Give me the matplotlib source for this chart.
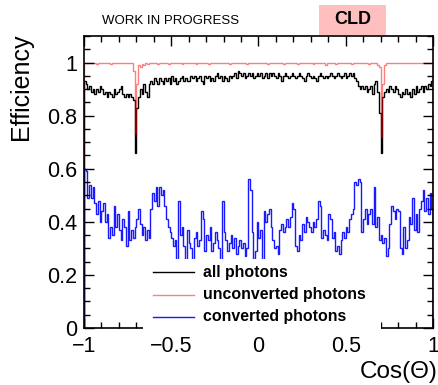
import matplotlib
matplotlib.use("Agg")
import matplotlib.pyplot as plt
import numpy as np
from matplotlib.patches import Rectangle
from matplotlib.lines import Line2D
from matplotlib.ticker import MultipleLocator

plt.rcParams['font.family'] = ['Liberation Sans', 'DejaVu Sans']

# efficiency vs cos(theta), 200 bins in [-1, 1]
edges = np.linspace(-1.0, 1.0, 201)

eff_all = [
    0.93, 0.92, 0.90, 0.91, 0.89, 0.90, 0.88, 0.90, 0.89, 0.91, 0.90, 0.88, 0.89, 0.87, 0.89, 0.88, 0.87, 0.90, 0.88, 0.89,
    0.90, 0.91, 0.88, 0.87, 0.88, 0.87, 0.88, 0.87, 0.86, 0.66, 0.83, 0.87, 0.90, 0.88, 0.92, 0.89, 0.87, 0.92, 0.93, 0.92,
    0.94, 0.93, 0.92, 0.94, 0.93, 0.92, 0.94, 0.93, 0.94, 0.92, 0.95, 0.93, 0.94, 0.92, 0.93, 0.94, 0.95, 0.93, 0.94, 0.93,
    0.93, 0.95, 0.94, 0.95, 0.93, 0.94, 0.95, 0.93, 0.92, 0.95, 0.94, 0.95, 0.93, 0.94, 0.93, 0.95, 0.96, 0.94, 0.95, 0.93,
    0.95, 0.94, 0.93, 0.95, 0.94, 0.95, 0.96, 0.94, 0.97, 0.96, 0.95, 0.96, 0.94, 0.95, 0.96, 0.95, 0.96, 0.94, 0.95, 0.96,
    0.95, 0.96, 0.94, 0.95, 0.96, 0.94, 0.96, 0.95, 0.96, 0.95, 0.94, 0.96, 0.95, 0.93, 0.95, 0.96, 0.95, 0.94, 0.95, 0.96,
    0.95, 0.94, 0.95, 0.96, 0.95, 0.94, 0.93, 0.95, 0.96, 0.95, 0.94, 0.95, 0.94, 0.93, 0.95, 0.96, 0.95, 0.94, 0.95, 0.94,
    0.95, 0.96, 0.95, 0.94, 0.95, 0.96, 0.95, 0.94, 0.95, 0.96, 0.94, 0.95, 0.96, 0.95, 0.96, 0.94, 0.93, 0.91, 0.90, 0.91,
    0.90, 0.91, 0.89, 0.90, 0.91, 0.88, 0.92, 0.93, 0.89, 0.81, 0.66, 0.87, 0.89, 0.90, 0.89, 0.91, 0.90, 0.89, 0.91, 0.90,
    0.88, 0.87, 0.89, 0.88, 0.90, 0.88, 0.89, 0.87, 0.90, 0.88, 0.91, 0.89, 0.90, 0.91, 0.89, 0.91, 0.90, 0.92, 0.91, 0.93,
]

eff_unconv = [
    1.00, 1.00, 1.00, 1.00, 1.00, 1.00, 1.00, 0.995, 1.00, 1.00, 1.00, 1.00, 1.00, 1.00, 1.00, 0.995, 1.00, 1.00, 1.00, 1.00,
    1.00, 1.00, 1.00, 1.00, 1.00, 1.00, 1.00, 1.00, 0.97, 0.73, 0.92, 0.99, 0.985, 0.995, 0.99, 1.00, 0.995, 1.00, 1.00, 1.00,
    1.00, 1.00, 0.995, 1.00, 1.00, 1.00, 1.00, 1.00, 0.995, 1.00, 1.00, 1.00, 1.00, 1.00, 1.00, 1.00, 0.995, 1.00, 1.00, 1.00,
    1.00, 1.00, 1.00, 1.00, 0.995, 1.00, 1.00, 1.00, 1.00, 1.00, 1.00, 0.995, 1.00, 1.00, 1.00, 1.00, 1.00, 1.00, 1.00, 1.00,
    1.00, 1.00, 1.00, 0.995, 1.00, 1.00, 1.00, 1.00, 1.00, 1.00, 1.00, 1.00, 1.00, 0.995, 1.00, 1.00, 1.00, 1.00, 1.00, 1.00,
    1.00, 1.00, 1.00, 1.00, 1.00, 0.995, 1.00, 1.00, 1.00, 1.00, 1.00, 1.00, 1.00, 1.00, 0.995, 1.00, 1.00, 1.00, 1.00, 1.00,
    1.00, 1.00, 0.995, 1.00, 1.00, 1.00, 1.00, 1.00, 1.00, 1.00, 1.00, 0.995, 1.00, 1.00, 1.00, 1.00, 1.00, 1.00, 0.99, 1.00,
    1.00, 1.00, 1.00, 1.00, 0.995, 1.00, 1.00, 1.00, 1.00, 1.00, 1.00, 1.00, 1.00, 0.995, 1.00, 1.00, 1.00, 1.00, 1.00, 1.00,
    1.00, 1.00, 1.00, 0.995, 1.00, 1.00, 1.00, 1.00, 0.99, 0.985, 0.72, 0.92, 0.99, 1.00, 1.00, 1.00, 1.00, 1.00, 1.00, 1.00,
    1.00, 1.00, 1.00, 1.00, 1.00, 1.00, 1.00, 1.00, 1.00, 1.00, 1.00, 1.00, 1.00, 1.00, 1.00, 1.00, 1.00, 1.00, 1.00, 1.00,
]

eff_conv = [
    0.60, 0.59, 0.49, 0.54, 0.49, 0.53, 0.47, 0.43, 0.48, 0.40, 0.44, 0.47, 0.40, 0.43, 0.34, 0.38, 0.35, 0.46, 0.38, 0.43,
    0.37, 0.33, 0.41, 0.38, 0.31, 0.44, 0.33, 0.37, 0.34, 0.38, 0.41, 0.45, 0.39, 0.35, 0.38, 0.33, 0.37, 0.34, 0.45, 0.51,
    0.48, 0.53, 0.46, 0.53, 0.50, 0.52, 0.46, 0.41, 0.38, 0.36, 0.34, 0.31, 0.33, 0.22, 0.48, 0.35, 0.38, 0.31, 0.22, 0.37,
    0.32, 0.30, 0.22, 0.34, 0.36, 0.31, 0.33, 0.44, 0.41, 0.29, 0.35, 0.33, 0.38, 0.29, 0.32, 0.36, 0.33, 0.30, 0.22, 0.48,
    0.36, 0.33, 0.29, 0.32, 0.35, 0.30, 0.34, 0.28, 0.31, 0.33, 0.30, 0.32, 0.27, 0.30, 0.56, 0.52, 0.36, 0.26, 0.29, 0.40,
    0.34, 0.37, 0.22, 0.44, 0.40, 0.43, 0.45, 0.38, 0.33, 0.30, 0.31, 0.28, 0.37, 0.39, 0.36, 0.38, 0.41, 0.38, 0.42, 0.47,
    0.45, 0.31, 0.29, 0.35, 0.33, 0.39, 0.36, 0.42, 0.40, 0.38, 0.36, 0.40, 0.38, 0.41, 0.48, 0.46, 0.34, 0.37, 0.35, 0.33,
    0.43, 0.41, 0.34, 0.36, 0.29, 0.31, 0.28, 0.33, 0.36, 0.34, 0.38, 0.36, 0.41, 0.43, 0.45, 0.55, 0.54, 0.56, 0.55, 0.36,
    0.41, 0.45, 0.39, 0.43, 0.45, 0.39, 0.53, 0.38, 0.42, 0.33, 0.35, 0.32, 0.34, 0.27, 0.30, 0.39, 0.46, 0.44, 0.41, 0.45,
    0.44, 0.30, 0.28, 0.38, 0.30, 0.33, 0.42, 0.39, 0.49, 0.37, 0.43, 0.36, 0.45, 0.48, 0.52, 0.44, 0.49, 0.43, 0.51, 0.45,
]

labels = ["all photons", "unconverted photons", "converted photons"]
colors = ["black", (1.0, 0.0, 0.0, 0.5), (0.0, 0.0, 1.0, 0.9)]

W, H = 439, 385


def fx(px):
    return px / W


def fy(py):
    return 1 - py / H


fig = plt.figure(figsize=(W / 100, H / 100), dpi=100)
ax = fig.add_axes([fx(84), fy(328), fx(433) - fx(84), fy(36) - fy(328)])

for vals, col in zip([eff_all, eff_unconv, eff_conv], colors):
    ax.stairs(vals, edges, baseline=0, color=col, lw=1.0)

ax.set_xlim(-1, 1)
ax.set_ylim(0, 1.1)
ax.xaxis.set_major_locator(MultipleLocator(0.5))
ax.xaxis.set_minor_locator(MultipleLocator(0.1))
ax.yaxis.set_major_locator(MultipleLocator(0.2))
ax.yaxis.set_minor_locator(MultipleLocator(0.05))
ax.yaxis.set_major_formatter(plt.FuncFormatter(lambda v, p: f"{v:g}"))
ax.xaxis.set_major_formatter(plt.FuncFormatter(lambda v, p: f"{v:g}".replace("-", "\u2212")))
ax.tick_params(which="both", direction="in", top=True, right=True, width=1.0, labelsize=15.5)
ax.tick_params(which="major", length=7)
ax.tick_params(which="minor", length=4)
ax.tick_params(axis="x", pad=6)
ax.tick_params(axis="y", pad=5)
for sp in ax.spines.values():
    sp.set_linewidth(1.2)

# axis titles, ROOT style: flush with the axis ends
fig.text(fx(438), fy(378), "Cos(\u0398)", fontsize=17.5, ha="right", va="baseline")
fig.text(fx(21), fy(33), "Efficiency", fontsize=18, rotation=90, ha="center", va="top")

# legend on an opaque white pad
ax.add_patch(Rectangle((fx(143), fy(329)), fx(381) - fx(143), fy(259) - fy(329),
                       transform=fig.transFigure, facecolor="white", edgecolor="none",
                       zorder=4, clip_on=False))
for i, (lab, col) in enumerate(zip(labels, colors)):
    yy = fy(272 + 22.5 * i)
    ax.add_line(Line2D([fx(153), fx(194)], [yy, yy], transform=fig.transFigure,
                       color=col, lw=1.0, zorder=5, clip_on=False))
    fig.text(fx(203), yy, lab, fontsize=11.4, fontweight="bold", ha="left", va="center", zorder=6)

# header
fig.text(fx(102), fy(21), "WORK IN PROGRESS", fontsize=9.5, ha="left", va="center")
fig.patches.append(Rectangle((fx(319), fy(35)), fx(386) - fx(319), fy(5) - fy(35),
                             transform=fig.transFigure, facecolor=(1.0, 0.75, 0.75),
                             edgecolor="none", figure=fig))
fig.text(fx(352.5), fy(20), "CLD", fontsize=13, fontweight="bold", ha="center", va="center")

fig.savefig("out.png", dpi=100)
